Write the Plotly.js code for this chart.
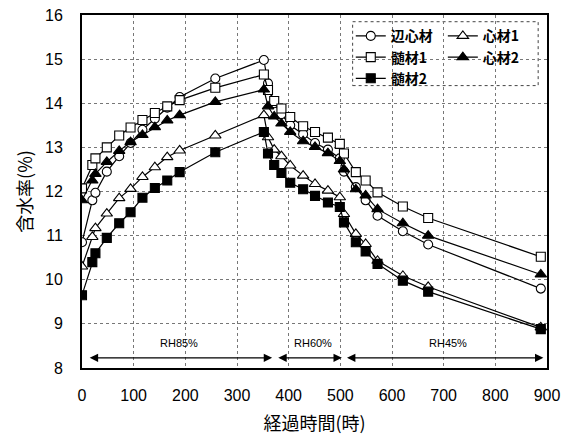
<!DOCTYPE html>
<html>
<head>
<meta charset="utf-8">
<script src="https://cdn.plot.ly/plotly-3.0.1.min.js"></script>
<style>html,body{margin:0;padding:0;background:#fff;}#chart{width:578px;height:439px;}</style>
</head>
<body>
<div id="chart"></div>
<script>
// elapsed time (hours)
const hours = [0, 20, 26, 48, 72, 94, 117, 141, 165, 189, 258, 352, 360, 372, 386, 403, 428, 451, 476, 499, 507, 530, 549, 572, 621, 670, 888];
// moisture content (%)
const henshinzai = [10.85, 11.8, 11.97, 12.45, 12.8, 13.1, 13.4, 13.65, 13.9, 14.14, 14.56, 14.98, 14.45, 14.0, 13.75, 13.5, 13.3, 13.1, 12.95, 12.75, 12.45, 12.1, 11.8, 11.45, 11.1, 10.8, 9.8];
const shinzai1   = [10.3, 10.97, 11.17, 11.5, 11.85, 12.06, 12.33, 12.55, 12.78, 12.93, 13.27, 13.73, 13.23, 12.95, 12.8, 12.59, 12.36, 12.17, 12.02, 11.87, 11.49, 11.04, 10.81, 10.43, 10.09, 9.84, 8.92];
const zuizai1    = [12.07, 12.6, 12.75, 13.0, 13.27, 13.45, 13.62, 13.78, 13.93, 14.07, 14.35, 14.65, 14.3, 14.05, 13.88, 13.69, 13.48, 13.35, 13.22, 13.08, 12.86, 12.44, 12.25, 11.98, 11.66, 11.4, 10.52];
const shinzai2   = [11.8, 12.25, 12.4, 12.67, 12.92, 13.12, 13.28, 13.46, 13.61, 13.73, 14.03, 14.31, 13.93, 13.7, 13.54, 13.35, 13.14, 13.01, 12.87, 12.69, 12.5, 12.05, 11.91, 11.6, 11.28, 11.0, 10.12];
const zuizai2    = [9.65, 10.4, 10.6, 10.95, 11.28, 11.53, 11.86, 12.08, 12.25, 12.44, 12.89, 13.35, 12.86, 12.6, 12.42, 12.2, 12.05, 11.9, 11.75, 11.65, 11.3, 10.85, 10.64, 10.36, 9.98, 9.73, 8.88];
const seriesNames = ['辺心材', '心材1', '髄材1', '心材2', '髄材2'];
const phaseLabels = ['RH85%', 'RH60%', 'RH45%'];
const xTicks = [0, 100, 200, 300, 400, 500, 600, 700, 800, 900];
const yTicks = [8, 9, 10, 11, 12, 13, 14, 15, 16];

const values = [henshinzai, shinzai1, zuizai1, shinzai2, zuizai2];
const symbols = ['circle', 'triangle-up', 'square', 'triangle-up', 'square'];
const fills = ['#fff', '#fff', '#fff', '#000', '#000'];
const legendIds = ['legend', 'legend2', 'legend', 'legend2', 'legend'];

const traces = values.map((v, i) => ({
  type: 'scatter', mode: 'lines+markers', x: hours, y: v, name: seriesNames[i],
  legend: legendIds[i],
  line: {color: '#000', width: 1.2},
  marker: {symbol: symbols[i], size: symbols[i] === 'triangle-up' ? 10 : 9, color: fills[i], line: {color: '#000', width: 1.1}}
}));

const gridStyle = {showgrid: true, gridcolor: '#777', griddash: 'dot', gridwidth: 1};
const tickFont = {family: 'Liberation Sans', size: 16, color: '#000'};
const legendFont = {family: 'Noto Sans CJK JP', size: 14, color: '#000', weight: 'bold'};
const titleFont = {family: 'Noto Sans CJK JP', size: 18, color: '#000'};

function arrowAnn(x0, x1) {
  return {x: x1, y: 8.23, ax: x0, ay: 8.23, xref: 'x', yref: 'y', axref: 'x', ayref: 'y', text: '',
    showarrow: true, arrowhead: 2, arrowside: 'end+start', arrowsize: 1.4, arrowwidth: 1.2, arrowcolor: '#000'};
}
function textAnn(x, t) {
  return {x: x, y: 8.56, xref: 'x', yref: 'y', text: t, showarrow: false,
    font: {family: 'Liberation Sans', size: 11, color: '#000'}};
}

const layout = {
  width: 578, height: 439,
  margin: {l: 82, r: 31, t: 15, b: 71},
  paper_bgcolor: '#fff', plot_bgcolor: '#fff',
  showlegend: true,
  xaxis: Object.assign({
    range: [0, 900], tickvals: xTicks, ticktext: xTicks.map(String), ticks: '', ticklabelstandoff: 12,
    showline: true, mirror: true, linecolor: '#000', linewidth: 2, zeroline: false,
    tickfont: tickFont,
    title: {text: '経過時間(時)', font: titleFont, standoff: 14}
  }, gridStyle),
  yaxis: Object.assign({
    range: [8, 16], tickvals: yTicks, ticktext: yTicks.map(String), ticks: '', ticklabelstandoff: 14,
    showline: true, mirror: true, linecolor: '#000', linewidth: 2, zeroline: false,
    tickfont: tickFont,
    title: {text: '含水率(%)', font: titleFont, standoff: 8}
  }, gridStyle),
  legend: {x: 0.578, y: 0.985, xanchor: 'left', yanchor: 'top', bgcolor: 'rgba(0,0,0,0)', borderwidth: 0,
    font: legendFont, tracegroupgap: 0, itemwidth: 30},
  legend2: {x: 0.776, y: 0.985, xanchor: 'left', yanchor: 'top', bgcolor: 'rgba(0,0,0,0)', borderwidth: 0,
    font: legendFont, tracegroupgap: 0, itemwidth: 30},
  shapes: [{type: 'rect', xref: 'paper', yref: 'paper', x0: 0.582, x1: 0.981, y0: 0.8, y1: 0.981,
    line: {color: '#444', width: 1, dash: 'dot'}, fillcolor: '#fff', layer: 'between'}],
  annotations: [
    arrowAnn(12, 368), arrowAnn(377, 503), arrowAnn(510, 893),
    textAnn(187, phaseLabels[0]), textAnn(448, phaseLabels[1]), textAnn(709, phaseLabels[2])
  ]
};

Plotly.newPlot('chart', traces, layout, {displayModeBar: false, staticPlot: true});
</script>
</body>
</html>
